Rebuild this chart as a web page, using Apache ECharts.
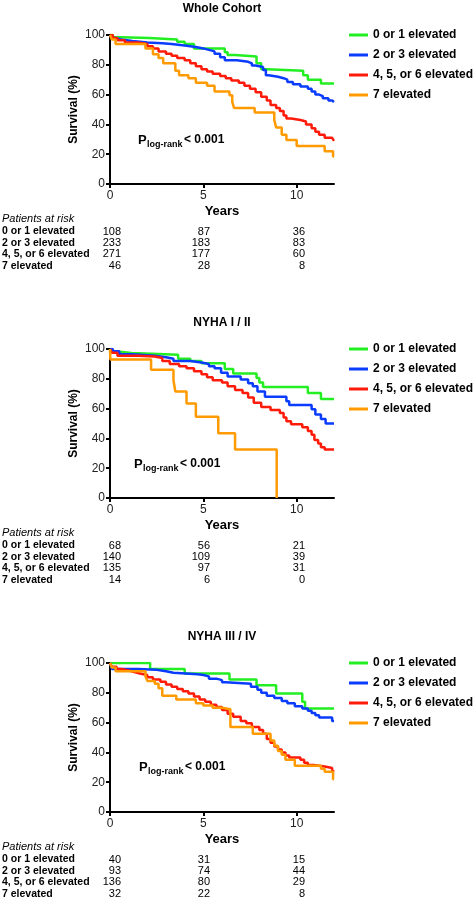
<!DOCTYPE html>
<html>
<head>
<meta charset="utf-8">
<script src="https://cdn.jsdelivr.net/npm/echarts@6/dist/echarts.min.js"></script>
<style>
html,body{margin:0;padding:0;background:#fff;}
#chart{width:476px;height:900px;}
</style>
</head>
<body>
<div id="chart"></div>
<script>
// ---------- data ----------
const groups = ['0 or 1 elevated', '2 or 3 elevated', '4, 5, or 6 elevated', '7 elevated'];
const panelTitles = ['Whole Cohort', 'NYHA I / II', 'NYHA III / IV'];
const yAxisTitle = 'Survival (%)';
const xAxisTitle = 'Years';
const pLabel = ['P', 'log-rank', '< 0.001'];
const riskHeader = 'Patients at risk';
const riskTimes = [0, 5, 10];
const xTicks = [0, 5, 10];

// Whole cohort
const wholeG01 = [[0,100],[0.15,98.5],[0.6,98],[2.1,97],[3.6,95.5],[4.0,94],[4.5,91],[6.15,88.5],[6.3,86.5],[6.7,85.5],[7.85,81],[8.1,77],[8.4,76],[10.35,73],[10.6,70],[11.3,67.5],[12,67.5]];
const wholeG23 = [[0,100],[0.1,98],[0.3,97],[0.6,96],[1.2,95],[2.0,94.5],[2.8,94],[3.3,93],[4.0,92],[4.6,91],[5.0,90],[5.3,89],[5.6,87.5],[5.9,85],[6.15,83],[6.8,82],[7.4,81],[7.6,79.5],[7.8,78.5],[8.2,76.5],[8.35,73],[8.5,72],[9.0,71],[9.3,70],[9.5,68.5],[9.8,67],[10.2,65.5],[10.6,64],[10.8,62],[11.0,60],[11.2,59],[11.4,57.5],[11.7,56],[11.9,55],[12,55]];
const wholeG456 = [[0,100],[0.15,98],[0.4,96.5],[0.8,95],[1.5,94],[2.0,92.5],[2.3,91],[2.6,89],[3.0,87.5],[3.3,86],[3.6,84.5],[4.0,83],[4.3,81],[4.6,79],[4.9,77],[5.2,75.5],[5.5,74],[5.9,72.5],[6.2,71],[6.5,69.5],[6.9,68],[7.2,66],[7.5,64],[7.8,61.5],[8.1,58.5],[8.4,56],[8.6,53],[8.9,51],[9.1,49],[9.3,46],[9.45,44],[9.7,43],[10.2,42],[10.5,40],[10.8,37.5],[11.0,35],[11.2,33],[11.5,31],[11.9,30],[12,29]];
const wholeG7 = [[0,100],[0.1,97],[0.3,94],[1.9,91],[2.3,87],[2.6,84.5],[2.85,81],[3.5,76],[3.7,73],[4.2,71],[4.6,68],[5.2,66],[5.6,62],[6.4,59.5],[6.55,55],[6.65,51],[7.75,48],[8.8,43],[8.9,38],[9.2,33],[9.45,29.5],[10.0,25.5],[11.5,22],[11.95,18.5],[12,18.5]];

// NYHA I / II
const n12G01 = [[0,100],[0.1,98.5],[0.3,97.3],[1.15,96.2],[3.65,93.5],[4.3,92],[4.9,90.5],[6.15,86.5],[6.6,83.5],[7.85,80.5],[8.0,77.5],[8.2,74.5],[10.6,70.5],[11.3,66.5],[12,66.5]];
const n12G23 = [[0,100],[0.15,98.5],[0.5,96.5],[1.2,95.5],[2.4,94.5],[3.0,93.5],[3.4,92],[4.3,91],[4.9,90],[5.3,88.5],[5.6,87],[5.95,84],[6.3,81.5],[7.0,79.5],[7.4,77],[7.65,75],[7.9,71.5],[8.3,68],[9.45,65],[9.6,62.5],[10.8,59.5],[11.0,56],[11.3,53],[11.55,50],[12,50]];
const n12G456 = [[0,100],[0.1,97.5],[0.4,95.5],[1.5,95],[2.4,94],[2.8,92],[3.2,90],[3.7,88.5],[4.1,87],[4.5,85],[4.9,83],[5.2,81],[5.5,79],[6.0,77.5],[6.3,75],[6.7,72.5],[7.1,70.5],[7.4,67.5],[7.7,64],[8.1,61],[8.6,59],[9.1,57],[9.3,54],[9.45,51.5],[9.7,49.5],[10.3,47.5],[10.6,45],[10.8,42.5],[10.95,39],[11.15,36.5],[11.3,34],[11.5,32.5],[12,32.5]];
const n12G7 = [[0,100],[0.02,93],[2.2,86],[3.4,79],[3.5,71.5],[4.1,63.5],[4.6,54.5],[5.8,43.5],[6.7,32.5],[8.93,0]];

// NYHA III / IV
const n34G01 = [[0,100],[2.15,96],[4.0,93],[6.4,89],[7.85,85],[8.9,79.5],[10.3,74],[10.45,69.5],[12,69.5]];
const n34G23 = [[0,100],[0.1,96],[1.5,95.5],[2.5,94.5],[3.0,93.5],[3.4,92.5],[4.7,92],[5.0,91],[5.3,89.5],[5.7,88.5],[6.0,87],[6.2,86],[7.55,84],[7.9,82],[8.1,80],[8.4,78],[8.8,76.5],[9.2,74.5],[9.5,73],[9.9,71],[10.3,69.5],[10.6,68],[10.8,66.5],[11.0,65],[11.2,63.5],[11.9,61],[12,61]];
const n34G456 = [[0,100],[0.1,97.5],[0.35,96],[0.6,95],[1.0,94],[1.3,93],[1.6,92],[2.0,90.5],[2.3,89],[2.7,87.5],[3.0,85.5],[3.3,84],[3.6,82.5],[3.9,81],[4.2,79.5],[4.5,77.5],[4.8,75.5],[5.1,74],[5.4,72],[5.7,70.5],[6.0,68.5],[6.3,66],[6.6,64],[7.0,61],[7.3,59.5],[7.6,57],[8.0,55],[8.2,52.5],[8.4,49],[8.6,46.5],[8.8,44],[9.0,42],[9.2,40],[9.4,38],[9.6,36.5],[10.2,35],[10.4,33],[10.6,31.5],[10.9,30.5],[11.5,29.5],[11.9,28],[12,27]];
const n34G7 = [[0,100],[0.1,97],[0.3,94.5],[1.9,91],[2.0,88],[2.4,86],[2.6,83],[2.8,78],[3.55,75.5],[4.6,73],[5.0,71.5],[5.5,70],[6.0,69],[6.45,57],[7.65,52.5],[8.6,48],[8.8,44.5],[9.0,41],[9.2,38.5],[9.4,35],[9.9,31],[11.3,29],[11.5,27],[11.95,22],[12,22]];

// Patients at risk (rows = groups, cols = riskTimes)
const riskWhole = [[108,87,36],[233,183,83],[271,177,60],[46,28,8]];
const riskN12 = [[68,56,21],[140,109,39],[135,97,31],[14,6,0]];
const riskN34 = [[40,31,15],[93,74,44],[136,80,29],[32,22,8]];

// ---------- layout / style ----------
const curves = [[wholeG01, wholeG23, wholeG456, wholeG7],[n12G01, n12G23, n12G456, n12G7],[n34G01, n34G23, n34G456, n34G7]];
const risks = [riskWhole, riskN12, riskN34];
const colors = ['#22ee22', '#0a3cff', '#ff1a0a', '#ff9a00'];
const FONT = '"Liberation Sans", Arial, Helvetica, sans-serif';
const gridLeft = 110, gridW = 224, gridH = 149;
const gridTops = [35, 349, 663];
const riskCols = [121, 210, 305];
const pPos = [[138, 140], [134, 464], [139, 767]];

const chart = echarts.init(document.getElementById('chart'), null, {renderer: 'canvas'});

const grid = [], xAxis = [], yAxis = [], series = [], legend = [], graphic = [];

gridTops.forEach((top, p) => {
  grid.push({left: gridLeft, top: top, width: gridW, height: gridH, containLabel: false});
  xAxis.push({
    type: 'value', gridIndex: p, min: 0, max: 12, interval: 5,
    name: xAxisTitle, nameLocation: 'middle', nameGap: 21,
    nameTextStyle: {fontFamily: FONT, fontWeight: 'bold', fontSize: 13, color: '#000'},
    axisLine: {show: true, onZero: false, lineStyle: {color: '#000', width: 2}},
    axisTick: {show: true, length: 4, customValues: xTicks, lineStyle: {color: '#000', width: 2}},
    axisLabel: {fontFamily: FONT, fontSize: 12, color: '#222', margin: 6, customValues: xTicks},
    splitLine: {show: false}
  });
  yAxis.push({
    type: 'value', gridIndex: p, min: 0, max: 100, interval: 20,
    name: yAxisTitle, nameLocation: 'middle', nameGap: 30,
    nameTextStyle: {fontFamily: FONT, fontWeight: 'bold', fontSize: 12, color: '#000'},
    axisLine: {show: true, onZero: false, lineStyle: {color: '#000', width: 2}},
    axisTick: {show: true, length: 4, lineStyle: {color: '#000', width: 2}},
    axisLabel: {fontFamily: FONT, fontSize: 12, color: '#222', margin: 5},
    splitLine: {show: false}
  });
  curves[p].forEach((data, g) => {
    series.push({
      name: groups[g], type: 'line', step: 'end', xAxisIndex: p, yAxisIndex: p,
      data: data, showSymbol: false, symbol: 'none', silent: true,
      lineStyle: {color: colors[g], width: 2.5}, itemStyle: {color: colors[g]},
      z: 2 + g, animation: false
    });
  });
  legend.push({
    data: groups, orient: 'vertical', left: 349, top: top - 7, padding: 0,
    icon: 'rect', itemWidth: 19, itemHeight: 3, itemGap: 6,
    selectedMode: false,
    textStyle: {fontFamily: FONT, fontWeight: 'bold', fontSize: 12, color: '#000', lineHeight: 14}
  });

  // panel title
  graphic.push({type: 'text', style: {text: panelTitles[p], x: gridLeft + gridW / 2, y: top - 26,
    textAlign: 'center', textVerticalAlign: 'middle', align: 'center', verticalAlign: 'middle',
    font: 'bold 12px ' + FONT, fill: '#000'}});
  // P log-rank annotation
  const [px, py] = pPos[p];
  graphic.push({type: 'text', style: {text: pLabel[0], x: px, y: py, textVerticalAlign: 'middle', verticalAlign: 'middle',
    font: 'bold 13px ' + FONT, fill: '#000'}});
  graphic.push({type: 'text', style: {text: pLabel[1], x: px + 9, y: py + 5, textVerticalAlign: 'middle', verticalAlign: 'middle',
    font: 'bold 9px ' + FONT, fill: '#000'}});
  graphic.push({type: 'text', style: {text: pLabel[2], x: px + 46, y: py, textVerticalAlign: 'middle', verticalAlign: 'middle',
    font: 'bold 12px ' + FONT, fill: '#000'}});

  // risk table
  const base = top + gridH;
  graphic.push({type: 'text', style: {text: riskHeader, x: 2, y: base + 35, textVerticalAlign: 'middle', verticalAlign: 'middle',
    font: 'italic 11px ' + FONT, fill: '#000'}});
  groups.forEach((gname, g) => {
    const ry = base + 47.5 + g * 11.45;
    graphic.push({type: 'text', style: {text: gname, x: 2, y: ry, textVerticalAlign: 'middle', verticalAlign: 'middle',
      font: 'bold 10.5px ' + FONT, fill: '#000'}});
    risks[p][g].forEach((v, c) => {
      graphic.push({type: 'text', style: {text: String(v), x: riskCols[c], y: ry,
        textAlign: 'right', align: 'right', textVerticalAlign: 'middle', verticalAlign: 'middle',
        font: '11px ' + FONT, fill: '#000'}});
    });
  });
});

chart.setOption({
  animation: false,
  backgroundColor: '#fff',
  textStyle: {fontFamily: FONT},
  grid, xAxis, yAxis, series, legend, graphic
});
</script>
</body>
</html>
